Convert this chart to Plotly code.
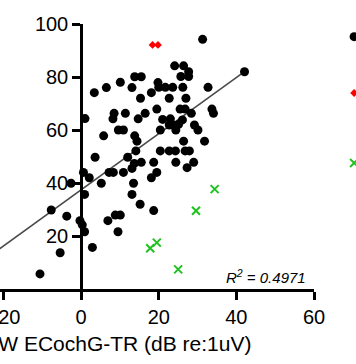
import plotly.graph_objects as go

# ---- data ----
main_x = [1.0, 3.4, 6.5, 10.1, 13.1, 13.8, 15.5, 15.3, 18.1, 19.8, 20.0, 21.7, 23.6, 24.1, 26.4,
          27.7, 25.7, 27.7, 26.2, 32.7, 22.7, 27.0, 31.3, 42.1, 19.5, 25.5, 26.8, 28.4, 33.7, 34.1,
          16.5, 8.5, 11.4, 8.2, 9.6, 10.9, 5.8, 13.8, 14.4, 14.7, 20.4, 21.0, 23.0, 23.4, 26.1,
          25.1, 24.4, 22.7, 29.2, 30.1, 26.4, 31.8, 3.6, 12.0, 14.1, 13.7, 13.1, 15.5, 7.2, 8.3,
          10.9, 0.6, 2.1, -2.6, 5.2, 13.5, 20.4, 22.7, 24.3, 26.8, 27.9, 18.7, 24.4, 29.0, 27.3,
          19.5, 18.1, 13.1, 0.9, 15.2, 18.7, -7.7, -3.7, -0.3, 0.3, 0.9, 6.9, 8.8, 10.1, 9.5,
          2.9, -5.4, -10.6]
main_y = [64.3, 74.1, 76.0, 78.0, 76.0, 80.1, 80.1, 72.0, 74.1, 77.9, 76.1, 76.1, 76.1, 84.2, 84.2,
          82.0, 80.2, 80.2, 76.1, 76.1, 72.0, 72.0, 94.2, 82.0, 67.9, 67.9, 67.9, 66.3, 67.9, 66.3,
          66.3, 66.3, 66.3, 64.2, 60.0, 60.0, 57.8, 57.8, 55.8, 64.2, 60.0, 64.0, 64.2, 62.1, 63.8,
          62.1, 60.0, 61.9, 61.9, 60.0, 55.8, 55.8, 49.7, 49.7, 52.1, 47.4, 45.5, 47.8, 44.0, 44.0,
          44.0, 44.0, 42.0, 39.9, 39.9, 39.9, 52.1, 52.1, 52.1, 52.1, 52.1, 47.8, 47.8, 47.8, 45.8,
          44.0, 42.0, 35.7, 35.7, 32.0, 29.6, 29.8, 27.5, 25.8, 24.2, 21.6, 25.8, 27.9, 27.9, 21.6,
          15.7, 13.7, 5.7]

red_x = [18.4, 19.8]
red_y = [92.1, 92.1]

green_x = [34.4, 29.6, 17.8, 19.5, 25.0]
green_y = [37.7, 29.5, 15.4, 17.5, 7.4]

fit_slope = 1.06
fit_intercept = 37.4
fit_x = [-25.0, 42.1]
r2_text = "0.4971"

x_ticks = [-20, 0, 20, 40, 60]
y_ticks = [20, 40, 60, 80, 100]
x_title = "AW ECochG-TR (dB re:1uV)"

FONT = "Liberation Sans, Arial, sans-serif"

fig = go.Figure()

fig.add_trace(go.Scatter(
    x=fit_x, y=[fit_intercept + fit_slope * v for v in fit_x],
    mode="lines", line=dict(color="#4a4a4a", width=1.6), showlegend=False, hoverinfo="skip"))

fig.add_trace(go.Scatter(
    x=main_x, y=main_y, mode="markers", name="Group A",
    marker=dict(color="black", size=9, symbol="circle"), legend="legend"))

fig.add_trace(go.Scatter(
    x=red_x, y=red_y, mode="markers", name="Group B",
    marker=dict(color="#ff0000", size=6, symbol="diamond"), legend="legend2"))

fig.add_trace(go.Scatter(
    x=green_x, y=green_y, mode="markers", name="Group C",
    marker=dict(color="#1fc21f", size=8, symbol="x-thin",
                line=dict(color="#1fc21f", width=2)), legend="legend3"))

legend_common = dict(x=1.064, xanchor="left", yanchor="middle",
                     font=dict(family=FONT, size=18, color="black"),
                     bgcolor="rgba(0,0,0,0)")

fig.update_layout(
    width=356, height=364,
    margin=dict(l=0, r=42, t=24, b=75, autoexpand=False),
    paper_bgcolor="white", plot_bgcolor="white",
    font=dict(family=FONT, color="black"),
    legend=dict(y=0.951, **legend_common),
    legend2=dict(y=0.7385, **legend_common),
    legend3=dict(y=0.4743, **legend_common),
    xaxis=dict(range=[-20.9, 60], tickvals=x_ticks, showgrid=False, zeroline=False,
               showline=True, linecolor="black", linewidth=2.5,
               ticks="outside", ticklen=8, tickwidth=2.5, tickcolor="black",
               ticklabeloverflow="allow",
               tickfont=dict(family=FONT, size=20, color="black")),
    yaxis=dict(range=[0, 100], tickvals=y_ticks, showgrid=False, zeroline=False,
               showline=True, linecolor="black", linewidth=2.5,
               anchor="free", position=81 / 314,
               ticks="outside", ticklen=8, tickwidth=2.5, tickcolor="black",
               tickfont=dict(family=FONT, size=20, color="black")),
    annotations=[
        dict(text=x_title, xref="paper", yref="paper", x=253 / 314, y=-0.204,
             xanchor="right", yanchor="middle", showarrow=False,
             font=dict(family=FONT, size=21, color="black")),
        dict(text="<i>R<sup>2</sup> = " + r2_text + "</i>", xref="paper", yref="paper",
             x=308 / 314, y=0.049, xanchor="right", yanchor="middle", showarrow=False,
             font=dict(family=FONT, size=15, color="black")),
    ],
)

fig.write_html("out.html", config={"displayModeBar": False},
               post_script="document.body.style.margin='0';document.body.style.overflow='hidden';")
